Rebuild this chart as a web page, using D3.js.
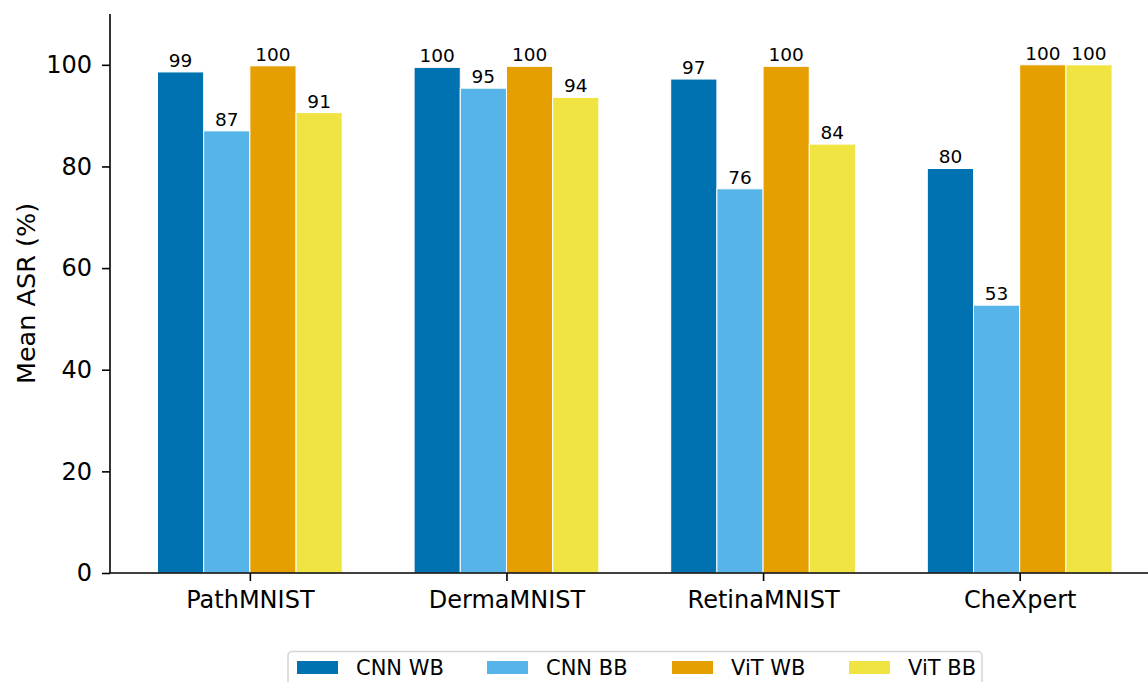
<!DOCTYPE html>
<html>
<head>
<meta charset="utf-8">
<script src="https://cdn.jsdelivr.net/npm/d3@7"></script>
<style>
  body { margin: 0; background: #fff; }
  svg { display: block; font-family: "DejaVu Sans", sans-serif; }
</style>
</head>
<body>
<div id="chart"></div>
<script>
const datasets = ["PathMNIST", "DermaMNIST", "RetinaMNIST", "CheXpert"];
const seriesNames = ["CNN WB", "CNN BB", "ViT WB", "ViT BB"];
const seriesColors = ["#0072B2", "#56B4E9", "#E69F00", "#F0E442"];
const cnnWB = [98.6, 99.5, 97.2, 79.6];
const cnnBB = [87.0, 95.4, 75.6, 52.7];
const vitWB = [99.8, 99.7, 99.7, 100.0];
const vitBB = [90.6, 93.6, 84.4, 100.0];
const yTicks = [0, 20, 40, 60, 80, 100];

const seriesValues = [cnnWB, cnnBB, vitWB, vitBB];
const width = 1148, height = 682;
const barW = 0.18;

const svg = d3.select('#chart').append('svg')
  .attr('width', width).attr('height', height);

const x = d3.scaleLinear().domain([-0.545, 3.5]).range([110, 1148]);
const y = d3.scaleLinear().domain([0, 110]).range([573, 14]);

// bars
seriesValues.forEach((vals, si) => {
  const offset = (si - 1.5) * barW;
  svg.append('g').selectAll('rect')
    .data(vals)
    .join('rect')
    .attr('x', (d, i) => x(i + offset - barW / 2))
    .attr('width', x(barW) - x(0))
    .attr('y', d => y(d))
    .attr('height', d => y(0) - y(d))
    .attr('fill', seriesColors[si])
    .attr('stroke', '#fff').attr('stroke-width', 1);

  svg.append('g').selectAll('text')
    .data(vals)
    .join('text')
    .attr('x', (d, i) => x(i + offset))
    .attr('y', d => y(d) - 5)
    .attr('text-anchor', 'middle')
    .attr('font-size', '18.5px').attr('fill', '#000')
    .text(d => Math.round(d));
});

// axes
const yAxis = svg.append('g').attr('transform', `translate(${x.range()[0]},0)`)
  .call(d3.axisLeft(y).tickValues(yTicks).tickSize(8).tickPadding(10));
const xAxis = svg.append('g').attr('transform', `translate(0,${y(0)})`)
  .call(d3.axisBottom(x).tickValues(d3.range(datasets.length))
    .tickFormat(i => datasets[i]).tickSize(8).tickPadding(10));

[yAxis, xAxis].forEach(a => {
  a.select('.domain').attr('stroke', '#000').attr('stroke-width', 1.6);
  a.selectAll('.tick line').attr('stroke', '#000').attr('stroke-width', 1.6);
  a.selectAll('.tick text').attr('fill', '#000')
    .attr('font-size', '24px').attr('font-family', '"DejaVu Sans", sans-serif');
});
xAxis.select('.domain').attr('d', `M${x.range()[0]},0H${x.range()[1]}`);
yAxis.select('.domain').attr('d', `M0,${y(0)}V${y.range()[1]}`);

svg.append('text')
  .attr('transform', `translate(35,${(y(0) + y.range()[1]) / 2}) rotate(-90)`)
  .attr('text-anchor', 'middle')
  .attr('font-size', '25.5px').attr('fill', '#000')
  .text('Mean ASR (%)');

// legend
const legend = svg.append('g');
legend.append('rect')
  .attr('x', 288).attr('y', 651.5).attr('width', 694).attr('height', 60)
  .attr('rx', 4).attr('fill', '#fff').attr('stroke', '#d5d5d5').attr('stroke-width', 1.5);
const legX = [297, 487, 672, 849];
seriesNames.forEach((name, i) => {
  legend.append('rect')
    .attr('x', legX[i]).attr('y', 661).attr('width', 41).attr('height', 13)
    .attr('fill', seriesColors[i]);
  legend.append('text')
    .attr('x', legX[i] + 59).attr('y', 675)
    .attr('font-size', '21px').attr('fill', '#000')
    .text(name);
});
</script>
</body>
</html>
